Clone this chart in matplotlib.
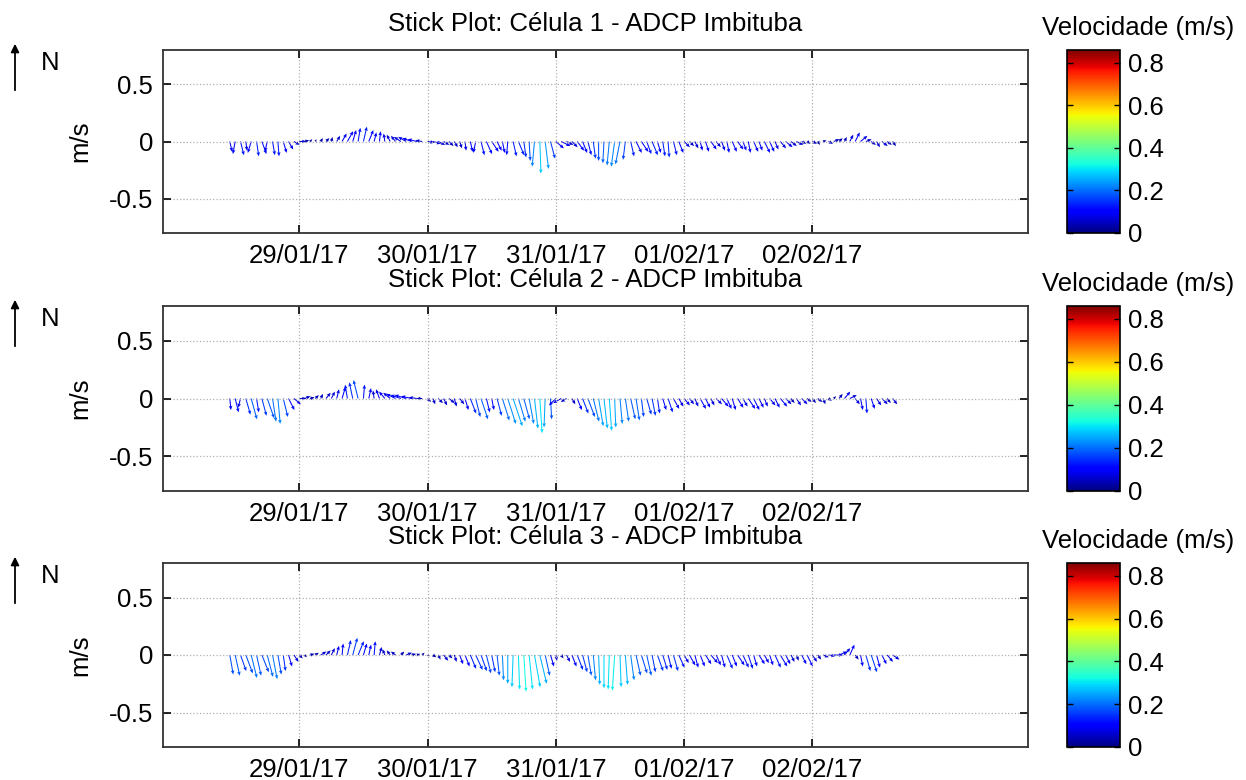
import matplotlib
matplotlib.use('Agg')
import matplotlib.pyplot as plt
import matplotlib.dates as mdates
import numpy as np
import pandas as pd

plt.rcParams['font.family'] = ['Liberation Sans', 'DejaVu Sans']

# hourly samples, 28/01/17 11:00 .. 02/02/17 15:00
times = pd.date_range('2017-01-28 11:00', '2017-02-02 15:00', freq='h')

# Célula 1 (north / east components, m/s)
v1 = [-0.09, -0.11, -0.12, -0.08, -0.10, -0.13, -0.11, -0.09, -0.12, -0.13, -0.10, -0.07, -0.03,
      0.00, 0.01, 0.02, 0.02, 0.03, 0.03, 0.04, 0.05, 0.07, 0.09, 0.10, 0.12, 0.13, 0.10, 0.08, 0.09, 0.07, 0.06, 0.05, 0.04, 0.04, 0.03, 0.02, 0.01,
      -0.01, -0.02, -0.03, -0.03, -0.04, -0.05, -0.06, -0.08, -0.09, -0.10, -0.12, -0.11, -0.09, -0.08, -0.10, -0.12, -0.13, -0.12, -0.14, -0.17, -0.22, -0.28, -0.24, -0.15,
      -0.06, -0.04, -0.03, -0.05, -0.08, -0.10, -0.12, -0.15, -0.17, -0.19, -0.21, -0.22, -0.20, -0.16, -0.13, -0.10, -0.09, -0.11, -0.12, -0.10, -0.13, -0.14, -0.12, -0.10,
      -0.05, -0.04, -0.06, -0.08, -0.09, -0.07, -0.05, -0.08, -0.10, -0.09, -0.07, -0.08, -0.10, -0.09, -0.08, -0.10, -0.09, -0.07, -0.06, -0.05, -0.04, -0.03, -0.02, -0.02,
      -0.02, -0.03, 0.01, -0.02, 0.02, 0.03, 0.04, 0.06, 0.08, 0.05, 0.02, -0.03, -0.05, -0.04, -0.03, -0.04]
u1 = [0.02, -0.02, 0.03, 0.01, -0.03, 0.02, 0.04, -0.02, 0.02, 0.01, 0.03, 0.04, 0.05,
      0.06, 0.04, 0.02, 0.01, 0.02, 0.03, 0.01, 0.03, 0.04, 0.05, 0.03, 0.02, 0.03, 0.04, 0.02, 0.01, -0.01, -0.03, -0.04, -0.06, -0.07, -0.08, -0.08, -0.06,
      0.06, 0.07, 0.06, 0.05, 0.04, 0.03, 0.02, 0.01, 0.02, -0.02, 0.03, 0.05, 0.06, 0.04, 0.02, -0.01, 0.03, 0.05, 0.02, 0.01, -0.02, 0.01, 0.03, 0.04,
      0.07, 0.08, 0.06, 0.05, 0.06, 0.04, 0.03, 0.02, 0.00, -0.01, -0.02, -0.03, -0.04, -0.02, 0.03, 0.05, 0.06, 0.04, 0.05, 0.03, 0.02, 0.01, 0.03, 0.04,
      0.05, 0.04, 0.03, 0.02, 0.03, 0.05, 0.04, 0.03, 0.02, 0.04, 0.05, 0.03, 0.02, 0.04, 0.03, 0.05, 0.04, 0.03, 0.05, 0.06, 0.05, 0.06, 0.04, 0.03,
      0.04, 0.02, 0.03, 0.04, 0.05, 0.03, 0.02, 0.03, 0.04, 0.06, 0.05, 0.04, 0.03, 0.05, 0.04, 0.03]

# Célula 2
v2 = [-0.10, -0.12, -0.08, -0.14, -0.18, -0.12, -0.15, -0.17, -0.20, -0.22, -0.16, -0.10, -0.05,
      0.00, 0.02, 0.01, 0.03, 0.04, 0.05, 0.06, 0.08, 0.10, 0.12, 0.14, 0.16, 0.12, 0.09, 0.07, 0.08, 0.06, 0.05, 0.04, 0.03, 0.03, 0.02, 0.01, 0.00,
      -0.03, -0.05, -0.04, -0.06, -0.04, -0.07, -0.05, -0.10, -0.13, -0.16, -0.18, -0.12, -0.10, -0.15, -0.19, -0.22, -0.24, -0.20, -0.18, -0.22, -0.26, -0.30, -0.25, -0.18,
      -0.06, -0.04, -0.03, -0.05, -0.10, -0.13, -0.16, -0.20, -0.24, -0.26, -0.28, -0.25, -0.22, -0.20, -0.18, -0.19, -0.16, -0.14, -0.15, -0.13, -0.10, -0.12, -0.09, -0.07,
      -0.06, -0.05, -0.07, -0.09, -0.08, -0.06, -0.05, -0.07, -0.09, -0.10, -0.08, -0.07, -0.09, -0.10, -0.08, -0.07, -0.06, -0.08, -0.07, -0.05, -0.04, -0.06, -0.05, -0.03,
      -0.04, -0.03, -0.05, -0.02, 0.02, 0.04, 0.06, 0.03, -0.05, -0.10, -0.13, -0.09, -0.06, -0.05, -0.04, -0.05]
u2 = [0.01, 0.03, -0.02, 0.04, 0.05, 0.02, 0.04, 0.06, 0.03, 0.02, 0.04, 0.05, 0.06,
      0.06, 0.05, 0.04, 0.03, 0.02, 0.04, 0.03, 0.02, 0.03, -0.02, -0.03, -0.04, 0.01, 0.02, -0.01, -0.03, -0.05, -0.06, -0.08, -0.09, -0.10, -0.09, -0.07, -0.05,
      0.03, 0.02, 0.04, 0.03, 0.05, 0.02, 0.04, 0.03, 0.05, 0.04, 0.06, 0.03, 0.02, 0.04, 0.06, 0.07, 0.08, 0.06, 0.05, 0.04, 0.03, 0.02, -0.01, 0.01,
      -0.06, -0.07, -0.05, 0.03, 0.04, 0.05, 0.06, 0.05, 0.04, 0.03, 0.02, 0.01, 0.02, 0.03, 0.04, 0.03, 0.02, 0.04, 0.03, 0.02, 0.03, 0.04, 0.05, 0.04,
      0.05, 0.04, 0.03, 0.05, 0.04, 0.03, 0.05, 0.06, 0.04, 0.03, 0.05, 0.04, 0.06, 0.05, 0.04, 0.03, 0.05, 0.04, 0.06, 0.05, 0.03, 0.04, 0.05, 0.04,
      0.03, 0.04, 0.02, 0.03, 0.02, 0.03, 0.05, 0.06, 0.04, 0.02, 0.01, 0.03, 0.04, 0.05, 0.03, 0.04]

# Célula 3
v3 = [-0.17, -0.18, -0.14, -0.16, -0.20, -0.18, -0.15, -0.19, -0.21, -0.17, -0.14, -0.10, -0.06,
      -0.03, -0.02, 0.01, 0.02, 0.03, 0.04, 0.06, 0.08, 0.10, 0.13, 0.15, 0.12, 0.10, 0.09, 0.12, 0.07, 0.05, 0.04, 0.03, 0.03, 0.02, 0.01, 0.01, 0.02,
      -0.01, -0.02, -0.04, -0.05, -0.03, -0.06, -0.08, -0.10, -0.12, -0.13, -0.14, -0.16, -0.15, -0.18, -0.22, -0.25, -0.28, -0.30, -0.32, -0.30, -0.28, -0.25, -0.18, -0.10,
      -0.05, -0.03, -0.06, -0.10, -0.13, -0.15, -0.18, -0.22, -0.26, -0.29, -0.30, -0.31, -0.28, -0.26, -0.22, -0.18, -0.16, -0.18, -0.15, -0.14, -0.13, -0.12, -0.14, -0.11,
      -0.07, -0.09, -0.11, -0.10, -0.08, -0.07, -0.09, -0.11, -0.12, -0.10, -0.09, -0.11, -0.12, -0.10, -0.08, -0.07, -0.09, -0.11, -0.10, -0.08, -0.06, -0.05, -0.08, -0.10,
      -0.06, -0.04, -0.02, -0.01, 0.00, 0.03, 0.06, 0.09, -0.04, -0.10, -0.14, -0.15, -0.11, -0.08, -0.06, -0.04]
u3 = [0.03, 0.04, 0.05, 0.06, 0.05, 0.04, 0.06, 0.05, 0.04, 0.03, 0.02, 0.03, 0.04,
      0.03, 0.02, 0.04, 0.03, 0.05, 0.04, 0.03, 0.02, 0.01, 0.03, 0.04, 0.05, 0.03, 0.02, 0.01, 0.02, -0.02, -0.03, -0.04, 0.03, 0.05, 0.04, 0.03, 0.02,
      0.02, 0.03, 0.02, 0.04, 0.03, 0.02, 0.03, 0.04, 0.05, 0.06, 0.05, 0.04, 0.03, 0.02, 0.01, 0.00, -0.01, 0.01, 0.02, 0.03, 0.05, 0.06, 0.04, 0.03,
      0.01, 0.02, 0.03, 0.04, 0.05, 0.04, 0.03, 0.02, 0.01, 0.00, -0.01, -0.02, 0.01, 0.02, 0.03, 0.04, 0.05, 0.04, 0.03, 0.05, 0.04, 0.03, 0.04, 0.05,
      0.04, 0.05, 0.03, 0.04, 0.05, 0.06, 0.04, 0.03, 0.05, 0.04, 0.06, 0.05, 0.04, 0.03, 0.05, 0.04, 0.03, 0.05, 0.06, 0.04, 0.03, 0.02, 0.04, 0.05,
      0.04, 0.03, 0.05, 0.06, 0.08, 0.07, 0.05, 0.04, 0.03, 0.02, 0.04, 0.05, 0.03, 0.04, 0.05, 0.06]

cells = [('Stick Plot: Célula 1 - ADCP Imbituba', u1, v1),
         ('Stick Plot: Célula 2 - ADCP Imbituba', u2, v2),
         ('Stick Plot: Célula 3 - ADCP Imbituba', u3, v3)]

day_ticks = pd.date_range('2017-01-29', '2017-02-02', freq='D')
xlim = (mdates.date2num(pd.Timestamp('2017-01-27 22:30')),
        mdates.date2num(pd.Timestamp('2017-02-03 16:20')))
vmax = 0.86
fs = 18.5

fig = plt.figure(figsize=(12.46, 7.80), dpi=100)
W, H = 1246.0, 780.0
tops = [50, 306, 563]
bots = [233, 491, 747]

x = mdates.date2num(times)
for (title, u, v), top, bot in zip(cells, tops, bots):
    u = np.array(u)
    v = np.array(v)
    spd = np.sqrt(u**2 + v**2)
    ax = fig.add_axes([163 / W, 1 - bot / H, 865 / W, (bot - top) / H])
    q = ax.quiver(x, np.zeros_like(x), u, v, spd, cmap='jet', clim=(0, vmax),
                  angles='uv', scale_units='y', scale=1, pivot='tail',
                  width=0.0012, headwidth=3.5, headlength=4, headaxislength=3.5)
    ax.set_xlim(xlim)
    ax.set_ylim(-0.8, 0.8)
    ax.set_yticks([-0.5, 0, 0.5])
    ax.set_yticklabels(['-0.5', '0', '0.5'])
    ax.set_xticks(mdates.date2num(day_ticks))
    ax.xaxis.set_major_formatter(mdates.DateFormatter('%d/%m/%y'))
    ax.tick_params(direction='in', length=6, width=1.2, top=True, right=True,
                   labelsize=fs, pad=7)
    ax.tick_params(axis='x', pad=8)
    ax.grid(True, linestyle=':', color='#b0b0b0', linewidth=0.9)
    for s in ax.spines.values():
        s.set_linewidth(1.3)
        s.set_color('#333333')
    ax.set_title(title, fontsize=fs, pad=14)
    ax.set_ylabel('m/s', fontsize=fs, labelpad=12)

    cax = fig.add_axes([1067 / W, 1 - bot / H, 53 / W, (bot - top) / H])
    cb = fig.colorbar(q, cax=cax, ticks=[0, 0.2, 0.4, 0.6, 0.8])
    cb.ax.set_yticklabels(['0', '0.2', '0.4', '0.6', '0.8'])
    cb.ax.tick_params(direction='in', length=4, width=1, left=True, right=True,
                      labelsize=fs, pad=6)
    cb.outline.set_linewidth(1.2)
    fig.text(1138 / W, 1 - (top - 22) / H, 'Velocidade (m/s)', fontsize=fs,
             ha='center', va='center')

    # north arrow
    fig.add_artist(matplotlib.patches.FancyArrowPatch(
        (15 / W, 1 - (top + 43) / H), (15 / W, 1 - (top - 9) / H),
        transform=fig.transFigure, arrowstyle='-|>', mutation_scale=12,
        linewidth=1.3, color='black'))
    fig.text(50 / W, 1 - (top + 13) / H, 'N', fontsize=fs, ha='center', va='center')

fig.savefig('out.png', dpi=100)
